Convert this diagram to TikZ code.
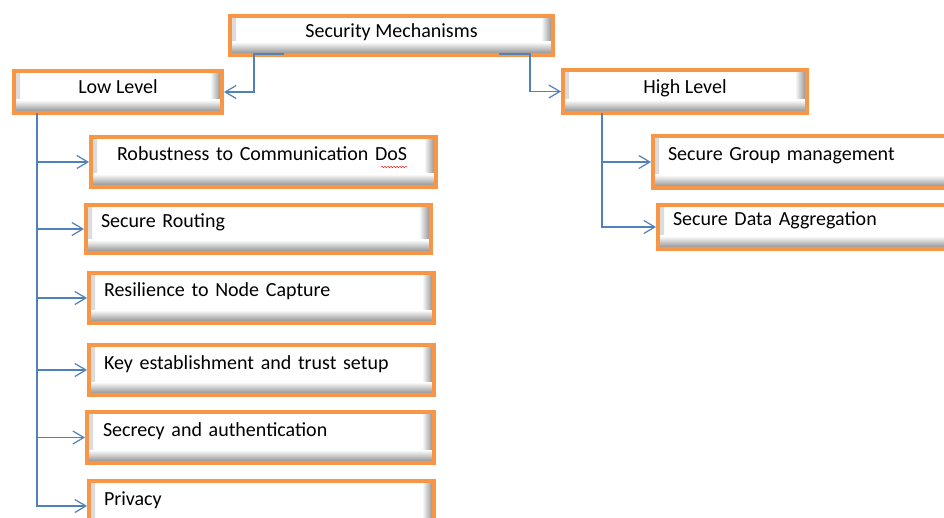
\documentclass[tikz,border=0pt]{standalone}
\usepackage{fontspec}
\setmainfont{Carlito}
\usetikzlibrary{arrows.meta,decorations.pathmorphing}
\definecolor{boxorange}{RGB}{247,150,70}
\definecolor{linkblue}{RGB}{79,129,189}

\begin{document}
\begin{tikzpicture}[x=1pt, y=-1pt,
  font=\fontsize{20}{24}\selectfont,
  mechbox/.style={draw=boxorange, line width=4pt, fill=white, anchor=north west,
    minimum width=#1, minimum height=40pt, text height=12pt, text depth=8pt,
    path picture={
      \shade[left color=black!14, right color=white] (path picture bounding box.north west) rectangle ([xshift=6pt]path picture bounding box.south west);
      \shade[left color=white, right color=black!48] ([xshift=-12pt]path picture bounding box.north east) rectangle ([yshift=12pt]path picture bounding box.south east);
      \shade[top color=white, bottom color=black!48] ([yshift=13pt]path picture bounding box.south west) rectangle (path picture bounding box.south east);
    }},
  leafbox/.style={mechbox=#1, minimum height=50pt, text width=315pt, align=left, inner xsep=15pt,
    text height=9pt, text depth=11pt},
  leafbox/.default=345pt,
  link/.style={draw=linkblue, line width=1.2pt, -{Straight Barb[length=11pt, width=13pt]}}]
  \path[use as bounding box, fill=white] (0,0) rectangle (944,518);

  % top level
  \node[mechbox=323pt, minimum height=39pt] (sm) at (228,14) {Security Mechanisms};
  \node[mechbox=208pt, minimum height=42pt] (low) at (12,69) {Low Level};
  \node[mechbox=244pt, minimum height=43pt] (high) at (561,68) {High Level};

  % low level mechanisms
  \node[leafbox=343pt] (robust) at (89,135) {\hspace*{11pt}Robustness to Communication DoS};
  \node[leafbox, minimum height=48pt] (routing) at (84,203) {Secure Routing};
  \node[leafbox] (resil) at (87,271) {Resilience to Node Capture};
  \node[leafbox] (key) at (87,343) {Key establishment and trust setup};
  \node[leafbox=347pt, minimum height=51pt] (secrecy) at (85,410) {Secrecy and authentication};
  \node[leafbox] (privacy) at (87,479) {Privacy};

  % high level mechanisms
  \node[leafbox, minimum height=52pt] (group) at (651,134) {Secure Group management};
  \node[leafbox, minimum height=44pt] (data) at (656,203) {Secure Data Aggregation};

  \draw[red, decorate, decoration={snake, amplitude=0.8pt, segment length=3pt}] (381,167) -- (407,167);

  % connectors
  \draw[link] ([shift={(56,-3)}]sm.south west) -| ([xshift=30pt]low.east) -- (low.east);
  \draw[link] ([shift={(-56,-3)}]sm.south east) -| ([xshift=-31pt]high.west) -- (high.west);

  \coordinate (lowspine) at ([xshift=25pt, yshift=2pt]low.south west);
  \draw[link] (lowspine) |- (privacy.west);
  \foreach \leaf in {robust,routing,resil,key,secrecy}
    \draw[link] (lowspine |- \leaf.west) -- (\leaf.west);

  \coordinate (highspine) at ([xshift=41pt, yshift=2pt]high.south west);
  \draw[link] (highspine) |- (data.west);
  \draw[link] (highspine |- group.west) -- (group.west);
\end{tikzpicture}
\end{document}
